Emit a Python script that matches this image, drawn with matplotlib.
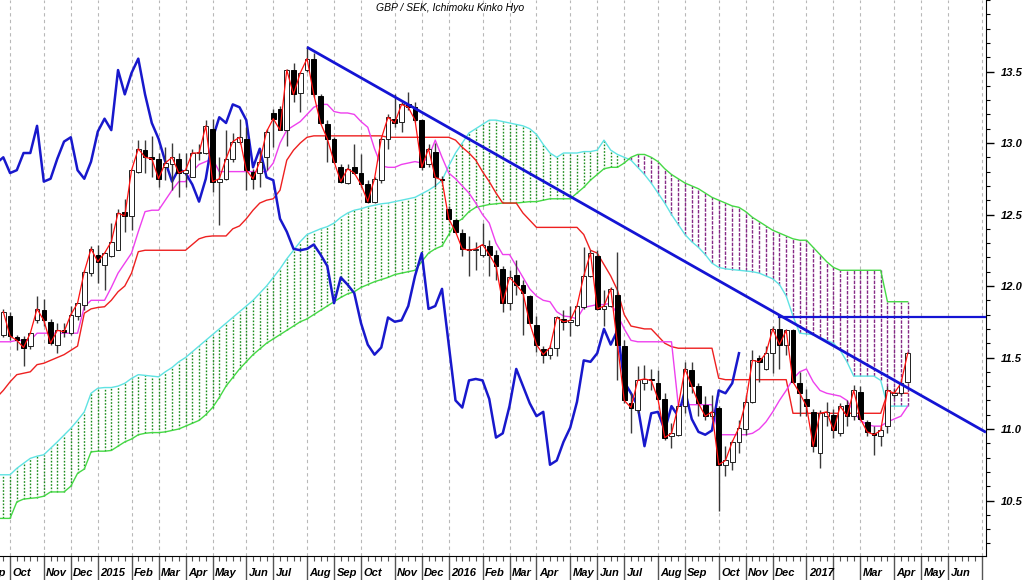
import numpy as np
import pandas as pd
import matplotlib
matplotlib.use("Agg")
import matplotlib.pyplot as plt
import matplotlib.transforms as mtransforms

plt.rcParams['font.family'] = ['Liberation Sans', 'DejaVu Sans']

# ---------------- data ----------------
title = "GBP / SEK, Ichimoku Kinko Hyo"
first_week = "2014-09-26"          # week-ending date of the first weekly bar

opens = [11.66, 11.79, 11.64, 11.63, 11.58, 11.76, 11.83, 11.75, 11.59, 11.69,
         11.67, 11.79, 11.87, 12.09, 12.22, 12.15, 12.21, 12.25, 12.52, 12.49,
         12.80, 12.95, 12.90, 12.89, 12.83, 12.85, 12.89, 12.79, 12.76, 12.93,
         12.93, 13.10, 12.73, 12.75, 12.89, 13.01, 13.03, 12.80, 12.79, 12.90,
         13.21, 13.24, 13.09, 13.51, 13.35, 13.51, 13.59, 13.33, 13.13, 13.03,
         12.83, 12.72, 12.83, 12.79, 12.71, 12.59, 12.74, 13.03, 13.17, 13.15,
         13.27, 13.25, 13.16, 12.85, 12.94, 12.75, 12.54, 12.46, 12.37, 12.26,
         12.25, 12.22, 12.28, 12.22, 12.12, 11.88, 12.08, 12.01, 11.93, 11.73,
         11.56, 11.52, 11.57, 11.77, 11.75, 11.73, 11.85, 12.07, 12.21, 11.84,
         11.86, 11.94, 11.58, 11.18, 11.13, 11.32, 11.35, 11.32, 11.21, 10.95,
         10.96, 11.16, 11.41, 11.30, 11.17, 11.09, 11.15, 10.75, 10.77, 10.91,
         11.00, 11.19, 11.50, 11.42, 11.53, 11.70, 11.59, 11.69, 11.32, 11.21,
         11.12, 10.83, 11.09, 11.10, 10.97, 11.17, 11.09, 11.26, 11.05, 10.97,
         10.95, 11.02, 11.24, 11.25, 11.33]
highs = [11.84, 11.82, 11.66, 11.65, 11.68, 11.93, 11.91, 11.77, 11.74, 11.74,
         11.86, 11.88, 12.11, 12.28, 12.29, 12.24, 12.44, 12.54, 12.61, 12.81,
         13.02, 13.02, 13.05, 12.93, 12.97, 13.00, 12.93, 12.93, 12.96, 12.99,
         13.16, 13.17, 12.90, 13.09, 13.07, 13.17, 13.11, 12.82, 12.95, 13.10,
         13.24, 13.26, 13.52, 13.56, 13.50, 13.68, 13.63, 13.34, 13.16, 13.04,
         12.85, 12.85, 12.99, 12.92, 12.74, 12.76, 13.04, 13.20, 13.34, 13.29,
         13.36, 13.29, 13.17, 12.99, 13.00, 12.77, 12.56, 12.47, 12.40, 12.35,
         12.31, 12.44, 12.32, 12.25, 12.14, 12.11, 12.18, 12.04, 11.94, 11.79,
         11.58, 11.59, 11.79, 11.83, 11.86, 11.87, 12.27, 12.25, 12.25, 11.97,
         11.99, 12.24, 11.62, 11.25, 11.44, 11.45, 11.42, 11.41, 11.25, 11.04,
         11.17, 11.47, 11.47, 11.32, 11.23, 11.24, 11.16, 10.88, 10.92, 11.06,
         11.24, 11.55, 11.52, 11.58, 11.72, 11.79, 11.70, 11.70, 11.40, 11.28,
         11.14, 11.13, 11.19, 11.14, 11.18, 11.20, 11.31, 11.30, 11.06, 11.02,
         11.02, 11.30, 11.28, 11.34, 11.54]
lows = [11.64, 11.62, 11.55, 11.44, 11.56, 11.74, 11.72, 11.59, 11.53, 11.64,
        11.66, 11.76, 11.83, 12.07, 12.02, 11.97, 12.20, 12.25, 12.38, 12.39,
        12.79, 12.79, 12.76, 12.69, 12.74, 12.67, 12.62, 12.69, 12.76, 12.88,
        12.92, 12.66, 12.43, 12.74, 12.87, 12.99, 12.67, 12.68, 12.69, 12.81,
        12.97, 13.09, 12.98, 13.29, 13.22, 13.50, 13.32, 13.13, 12.87, 12.86,
        12.72, 12.71, 12.78, 12.69, 12.58, 12.58, 12.72, 12.96, 13.11, 13.08,
        13.23, 13.15, 12.81, 12.83, 12.69, 12.72, 12.46, 12.37, 12.21, 12.07,
        12.11, 12.20, 12.07, 12.04, 11.82, 11.83, 11.94, 11.66, 11.74, 11.54,
        11.46, 11.49, 11.51, 11.69, 11.65, 11.72, 11.84, 12.06, 11.83, 11.72,
        11.85, 11.34, 11.18, 10.97, 11.11, 11.27, 11.27, 11.20, 10.92, 10.87,
        10.95, 11.11, 11.25, 11.09, 11.06, 11.07, 10.43, 10.67, 10.71, 10.83,
        10.96, 11.18, 11.33, 11.41, 11.39, 11.42, 11.52, 11.32, 11.09, 11.09,
        10.84, 10.73, 11.02, 10.94, 10.95, 11.02, 11.06, 11.06, 10.95, 10.82,
        10.88, 10.97, 11.22, 11.24, 11.32]
closes = [11.82, 11.65, 11.62, 11.57, 11.67, 11.84, 11.76, 11.60, 11.69, 11.68,
          11.80, 11.88, 12.10, 12.26, 12.17, 12.23, 12.31, 12.51, 12.49, 12.81,
          12.96, 12.90, 12.89, 12.75, 12.86, 12.90, 12.79, 12.81, 12.93, 12.93,
          13.12, 12.73, 12.75, 12.89, 13.01, 13.04, 12.81, 12.75, 12.87, 13.08,
          13.17, 13.09, 13.51, 13.34, 13.49, 13.59, 13.34, 13.14, 13.03, 12.87,
          12.73, 12.82, 12.79, 12.71, 12.59, 12.75, 13.03, 13.18, 13.14, 13.27,
          13.25, 13.16, 12.83, 12.96, 12.76, 12.74, 12.47, 12.38, 12.26, 12.25,
          12.26, 12.29, 12.22, 12.14, 11.88, 12.06, 12.01, 11.95, 11.74, 11.59,
          11.52, 11.57, 11.78, 11.75, 11.76, 11.86, 12.07, 12.23, 11.84, 11.86,
          11.98, 11.59, 11.20, 11.15, 11.34, 11.35, 11.34, 11.21, 10.94, 10.97,
          11.16, 11.42, 11.30, 11.18, 11.09, 11.12, 10.75, 10.78, 10.91, 11.01,
          11.19, 11.48, 11.47, 11.53, 11.70, 11.59, 11.69, 11.33, 11.25, 11.16,
          10.88, 11.11, 11.12, 10.99, 11.16, 11.09, 11.27, 11.07, 10.98, 10.96,
          10.99, 11.27, 11.25, 11.32, 11.53]

# indicator lines, one value per week starting one week before the first bar
line_start_week = -1
tenkan = [11.61, 11.61, 11.61, 11.62, 11.62, 11.62, 11.67, 11.67, 11.67, 11.67, 11.67,
          11.67, 11.67, 11.855, 11.90, 11.90, 11.90, 11.99, 12.09, 12.16, 12.23,
          12.38, 12.52, 12.53, 12.53, 12.60, 12.67, 12.73, 12.73, 12.80, 12.85,
          12.87, 12.89, 12.80, 12.80, 12.80, 12.80, 12.80, 12.80, 12.80, 12.80,
          12.86, 13.00, 13.09, 13.12, 13.15, 13.20, 13.25, 13.27, 13.27, 13.22,
          13.21, 13.21, 13.20, 13.15, 13.11, 12.96, 12.84, 12.83, 12.83, 12.85,
          12.86, 12.87, 12.86, 12.90, 13.02, 12.90, 12.79, 12.75, 12.70, 12.65,
          12.58, 12.50, 12.44, 12.30, 12.22, 12.22, 12.14, 12.06, 11.98, 11.93,
          11.90, 11.89, 11.82, 11.79, 11.785, 11.77, 11.85, 11.86, 11.87, 11.87,
          11.88, 11.80, 11.70, 11.62, 11.61, 11.61, 11.61, 11.61, 11.61, 11.61,
          11.17, 11.17, 11.17, 11.17, 11.17, 11.17, 10.96, 10.96, 10.96, 10.96,
          10.96, 10.97, 11.00, 11.05, 11.12, 11.20, 11.27, 11.35, 11.40, 11.42,
          11.33, 11.27, 11.25, 11.24, 11.23, 11.20, 11.12, 11.06, 11.03, 11.02,
          11.02, 11.05, 11.07, 11.09, 11.16]
kijun = [11.22, 11.27, 11.33, 11.38, 11.39, 11.40, 11.45, 11.46, 11.48, 11.50, 11.52,
         11.55, 11.58, 11.81, 11.84, 11.85, 11.855, 11.90, 11.96, 12.00, 12.09,
         12.24, 12.25, 12.25, 12.25, 12.25, 12.25, 12.25, 12.25, 12.29, 12.33,
         12.345, 12.35, 12.35, 12.35, 12.40, 12.42, 12.47, 12.53, 12.58, 12.60,
         12.61, 12.67, 12.88, 12.95, 13.00, 13.04, 13.05, 13.05, 13.05, 13.05,
         13.05, 13.05, 13.05, 13.05, 13.05, 13.05, 13.05, 13.04, 13.04, 13.04,
         13.04, 13.04, 13.04, 13.04, 13.04, 13.04, 13.04, 13.02, 12.97, 12.93,
         12.88, 12.80, 12.73, 12.65, 12.58, 12.58, 12.58, 12.51, 12.46, 12.41,
         12.41, 12.41, 12.41, 12.41, 12.41, 12.41, 12.36, 12.25, 12.23, 12.15,
         12.07, 11.97, 11.80, 11.72, 11.71, 11.70, 11.70, 11.65, 11.60, 11.576,
         11.565, 11.565, 11.565, 11.565, 11.565, 11.565, 11.355, 11.345, 11.345, 11.345,
         11.345, 11.345, 11.345, 11.345, 11.345, 11.345, 11.345, 11.11, 11.11, 11.11,
         11.11, 11.11, 11.11, 11.11, 11.11, 11.11, 11.11, 11.11, 11.11, 11.11,
         11.11, 11.25, 11.25, 11.25, 11.25]
span_a = [10.68, 10.68, 10.68, 10.725, 10.76, 10.795, 10.81, 10.82, 10.865, 10.91, 10.958,
          11.005, 11.06, 11.12, 11.25, 11.285, 11.29, 11.29, 11.30, 11.32, 11.354,
          11.38, 11.375, 11.37, 11.365, 11.40, 11.43, 11.47, 11.50, 11.54, 11.58,
          11.62, 11.66, 11.70, 11.74, 11.78, 11.82, 11.86, 11.90, 11.95, 12.00,
          12.06, 12.12, 12.19, 12.25, 12.31, 12.36, 12.38, 12.40, 12.415, 12.44,
          12.48, 12.51, 12.53, 12.54, 12.555, 12.565, 12.575, 12.58, 12.59, 12.60,
          12.61, 12.62, 12.645, 12.67, 12.70, 12.74, 12.84, 12.93, 13.00, 13.07,
          13.10, 13.13, 13.16, 13.16, 13.15, 13.14, 13.13, 13.12, 13.10, 13.06,
          12.99, 12.93, 12.90, 12.93, 12.93, 12.93, 12.94, 12.94, 12.95, 13.02,
          12.95, 12.92, 12.90, 12.88, 12.83, 12.78, 12.72, 12.65, 12.58, 12.50,
          12.43, 12.36, 12.31, 12.27, 12.22, 12.16, 12.13, 12.12, 12.115, 12.11,
          12.105, 12.10, 12.09, 12.07, 12.05, 12.01, 11.93, 11.79, 11.67, 11.665,
          11.66, 11.64, 11.62, 11.60, 11.55, 11.47, 11.37, 11.37, 11.37, 11.37,
          11.34, 11.16, 11.16, 11.16, 11.16]
span_b = [10.375, 10.375, 10.375, 10.49, 10.51, 10.515, 10.52, 10.53, 10.56, 10.56, 10.56,
          10.60, 10.69, 10.72, 10.84, 10.845, 10.845, 10.85, 10.88, 10.91, 10.93,
          10.96, 10.97, 10.975, 10.975, 10.98, 10.99, 11.00, 11.02, 11.04, 11.06,
          11.10, 11.15, 11.22, 11.30, 11.36, 11.42, 11.47, 11.52, 11.56, 11.60,
          11.63, 11.66, 11.69, 11.72, 11.75, 11.77, 11.80, 11.83, 11.86, 11.89,
          11.92, 11.945, 11.96, 11.99, 12.01, 12.03, 12.045, 12.06, 12.08, 12.09,
          12.10, 12.11, 12.17, 12.23, 12.26, 12.28, 12.36, 12.44, 12.47, 12.52,
          12.55, 12.56, 12.57, 12.575, 12.58, 12.58, 12.58, 12.585, 12.59, 12.59,
          12.60, 12.61, 12.61, 12.61, 12.61, 12.65, 12.69, 12.74, 12.78, 12.82,
          12.83, 12.83, 12.86, 12.90, 12.92, 12.92, 12.90, 12.87, 12.82, 12.78,
          12.75, 12.72, 12.70, 12.68, 12.65, 12.62, 12.60, 12.58, 12.56, 12.55,
          12.52, 12.48, 12.45, 12.42, 12.39, 12.37, 12.35, 12.33, 12.32, 12.32,
          12.27, 12.22, 12.17, 12.13, 12.11, 12.11, 12.11, 12.11, 12.11, 12.11,
          12.11, 11.89, 11.89, 11.89, 11.89]
chikou_shift = 25

trend_weeks = [45, 145.6]
trend_values = [13.67, 10.977]
resist_weeks = [115, 145.6]
resist_value = 11.78

month_labels = ['Sep', 'Oct', 'Nov', 'Dec',
                '2015', 'Feb', 'Mar', 'Apr', 'May', 'Jun', 'Jul', 'Aug', 'Sep', 'Oct', 'Nov', 'Dec',
                '2016', 'Feb', 'Mar', 'Apr', 'May', 'Jun', 'Jul', 'Aug', 'Sep', 'Oct', 'Nov', 'Dec',
                '2017', '', 'Mar', 'Apr', 'May', 'Jun', '']
y_ticks = [10.5, 11.0, 11.5, 12.0, 12.5, 13.0, 13.5]

# ---------------- figure ----------------
W, H = 1024, 580
fig = plt.figure(figsize=(W / 100, H / 100), dpi=100)
ax = fig.add_axes([0, 24 / H, 986 / W, 556 / H])

o = np.array(opens); hi = np.array(highs); lo = np.array(lows); c = np.array(closes)
weeks = np.arange(len(c))

# month positions (first weekly bar of each month)
fridays = pd.date_range("2014-09-01", "2017-07-31", freq="W-FRI")
fs = pd.Series(fridays, index=fridays.to_period("M"))
firsts = fs.groupby(level=0).first()
month_pos = ((firsts - pd.Timestamp(first_week)).dt.days / 7).values

for p in month_pos:
    ax.axvline(p, color='#b8b8b8', lw=0.8, ls=(0, (3, 3)), zorder=0)

# cloud
ind_weeks = np.arange(line_start_week, line_start_week + len(span_a))
a = np.array(span_a); b = np.array(span_b)
vis = ind_weeks >= 0
gm = vis & (a >= b)
pm = vis & (a < b)
ax.vlines(ind_weeks[gm], b[gm], a[gm], colors='#1c8c1c', linestyles=(0, (1.2, 1.2)), lw=1.0, zorder=1)
ax.vlines(ind_weeks[pm], a[pm], b[pm], colors='#862a86', linestyles=(0, (2.5, 1)), lw=1.0, zorder=1)
ax.plot(ind_weeks, a, color='#5fe3e3', lw=1.0, zorder=2)
ax.plot(ind_weeks, b, color='#45d845', lw=1.0, zorder=2)

# kijun / tenkan
ax.plot(ind_weeks, kijun, color='#ee2020', lw=1.0, zorder=3)
ax.plot(ind_weeks, tenkan, color='#ee40ee', lw=1.0, zorder=3)

# chikou span: closes plotted chikou_shift weeks back
cw = weeks[chikou_shift - 1:] - chikou_shift
ax.plot(cw, c[chikou_shift - 1:], color='#1818cc', lw=1.8, zorder=3)

# candles
up = c >= o
ax.vlines(weeks, lo, hi, colors='#3a3a3a', lw=1.0, zorder=4)
bb = np.minimum(o, c)
bh = np.maximum(np.abs(c - o), 0.01)
ax.bar(weeks[up], bh[up], bottom=bb[up], width=0.68, color='white',
       edgecolor='#202020', lw=0.7, zorder=5)
ax.bar(weeks[~up], bh[~up], bottom=bb[~up], width=0.68, color='black',
       edgecolor='black', lw=0.7, zorder=5)
ax.plot(weeks, c, color='#ff1010', lw=0.9, zorder=6)

# trend lines
ax.plot(trend_weeks, trend_values, color='#1414d4', lw=2.0, zorder=7, solid_capstyle='butt')
ax.plot(resist_weeks, [resist_value, resist_value], color='#1414d4', lw=1.6, zorder=7)

# axes styling
for s in ['left', 'top']:
    ax.spines[s].set_visible(False)
ax.spines['right'].set_color('black')
ax.spines['bottom'].set_color('black')
ax.yaxis.tick_right()
ax.set_yticks(y_ticks)
ax.set_yticklabels([f"{v:.1f}" for v in y_ticks])
ax.set_yticks(np.round(np.arange(10.2, 14.0, 0.1), 1), minor=True)
ax.tick_params(axis='y', which='major', length=6, width=1, pad=5, labelsize=8)
ax.tick_params(axis='y', which='minor', length=3, width=0.8)
for lbl in ax.get_yticklabels():
    lbl.set_fontweight('bold')
    lbl.set_fontstyle('italic')

ax.set_xticks(month_pos)
ax.set_xticklabels([])
ax.set_xticks(np.arange(-3, 146), minor=True)
ax.tick_params(axis='x', which='major', length=17.5, width=1, color='#555555')
ax.tick_params(axis='x', which='minor', length=3.5, width=0.8, color='#555555')

# view limits set after ticks so tick setting cannot widen them
ax.set_xlim(-0.49, 145.6)
ax.set_ylim(10.112, 14.0)

trans = mtransforms.blended_transform_factory(ax.transData, fig.transFigure)
for p, lab in zip(month_pos, month_labels):
    if lab:
        ax.text(p + 0.35, 7 / H, lab, transform=trans, ha='left', va='center',
                fontsize=8, fontweight='bold', fontstyle='italic', clip_on=False)

fig.text(450 / W, 1 - 8 / H, title, ha='center', va='center', fontsize=7.5, fontstyle='italic')

fig.savefig('out.png', dpi=100)
